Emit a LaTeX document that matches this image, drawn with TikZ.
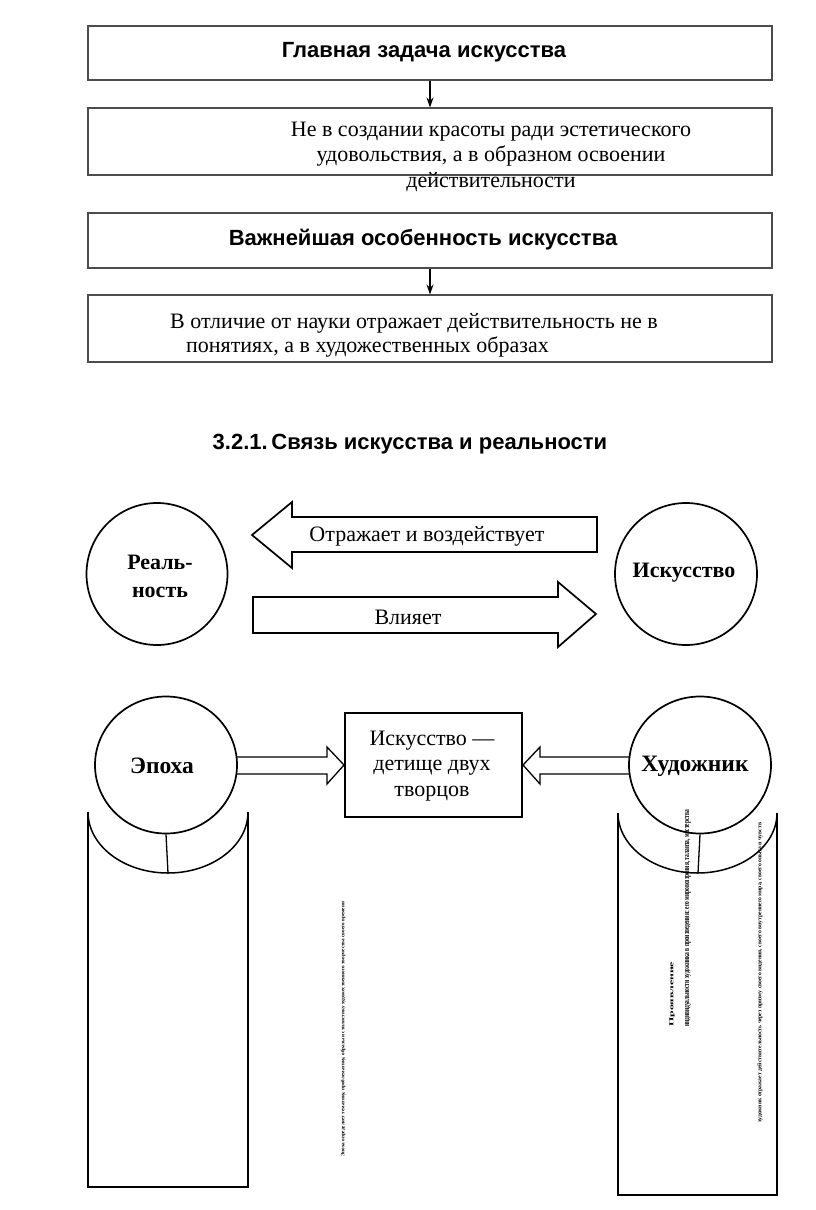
\documentclass[tikz,border=0pt]{standalone}
\usepackage{fontspec}
\setmainfont{Liberation Serif}
\newfontfamily\hsans{Liberation Sans}
\usetikzlibrary{shapes.geometric,arrows.meta}
\tikzset{
  box/.style={draw=black!70, line width=1.1pt, minimum width=684pt, inner sep=0pt},
  hd/.style={font=\hsans\bfseries\fontsize{22}{25}\selectfont, inner sep=0pt},
  bodytxt/.style={font=\fontsize{22}{25.5}\selectfont, align=center, inner sep=0pt},
  circ/.style={draw, ellipse, line width=1.7pt, inner sep=0pt},
  circtxt/.style={font=\bfseries\fontsize{22}{28}\selectfont, align=center, inner sep=0pt},
  blk/.style={draw, line width=1.7pt, line join=miter},
  tinytxt/.style={font=\bfseries\fontsize{4}{4.5}\selectfont, text=black, inner sep=0pt},
  conn/.style={line width=1.2pt, -{Stealth[length=10pt,width=7pt]}},
}
\begin{document}
\begin{tikzpicture}[x=1pt,y=-1pt]
\useasboundingbox (0,0) rectangle (816,1210);
\fill[white] (0,0) rectangle (816,1210);

% top boxes
\node[box, minimum height=54pt] (b1) at (430,53) {};
\node[hd] (t1) at (424,52) {Главная задача искусства};
\node[box, minimum height=67pt] (b2) at (430,141.5) {};
\node[bodytxt] (t2) at (491,156.5) {Не в создании красоты ради эстетического\\удовольствия, а в образном освоении\\действительности};
\draw[conn] (b1.south) -- (b2.north);

\node[box, minimum height=55pt] (b3) at (430,240.5) {};
\node[hd] (t3) at (423,240) {Важнейшая особенность искусства};
\node[box, minimum height=67pt] (b4) at (430,328.5) {};
\node[bodytxt, font=\fontsize{22}{24}\selectfont, align=left, anchor=west] (t4) at (170,335) {В отличие от науки отражает действительность не в\\\hspace*{16pt}понятиях, а в художественных образах};
\draw[conn] (b3.south) -- (b4.north);

% title
\node[hd] (title) at (410,444) {3.2.1.\,Связь искусства и реальности};

% reality / art
\node[circ, minimum width=141pt, minimum height=142pt] (real) at (157,574) {};
\node[circtxt] (realt) at (160,576) {Реаль-\\ность};
\node[circ, minimum width=142pt, minimum height=142pt] (art) at (686,574) {};
\node[circtxt] (artt) at (684,573) {Искусство};

\draw[blk] (252,535) -- (292,502) -- (292,517) -- (597,517) -- (597,552) -- (292,552) -- (292,568) -- cycle;
\node[bodytxt] (a1t) at (427,536) {Отражает и воздействует};
\draw[blk] (253,597) -- (558,597) -- (558,582) -- (596,614) -- (558,647) -- (558,633) -- (253,633) -- cycle;
\node[bodytxt] (a2t) at (408,617) {Влияет};

% epoch / artist
\node[circ, minimum width=142pt, minimum height=137pt] (ep) at (166,765) {};
\node[circtxt, font=\bfseries\fontsize{23.5}{28}\selectfont] (ept) at (162,766) {Эпоха};
\node[circ, minimum width=142pt, minimum height=137pt] (ar) at (700,765) {};
\node[circtxt, font=\bfseries\fontsize{23.5}{28}\selectfont] (art2) at (695,766) {Художник};
\node[draw, line width=1.1pt, minimum width=177pt, minimum height=104pt] (mid) at (433.5,765) {};
\node[bodytxt, font=\fontsize{22}{25.5}\selectfont] (midt) at (432,766) {Искусство —\\детище двух\\творцов};

% hollow arrows
\draw[line width=1.3pt, line join=miter] (237,757) -- (327,757) -- (327,747) -- (344,765) -- (327,784) -- (327,774) -- (237,774);
\draw[line width=1.3pt, line join=miter] (630,757) -- (540,757) -- (540,747) -- (523,765) -- (540,784) -- (540,774) -- (630,774);

% scrolls
\draw[line width=1.5pt] (88,812) -- (88,1187) -- (248,1187) -- (248,812);
\draw[line width=1.5pt] (88,812) arc[start angle=180, end angle=360, x radius=80pt, y radius=61pt];
\coordinate (lb) at (168,873);
\draw[line width=1.3pt] (ep.south) -- (lb);

\draw[line width=1.5pt] (618,813) -- (618,1195) -- (777,1195) -- (777,813);
\draw[line width=1.5pt] (618,813) arc[start angle=180, end angle=360, x radius=79.5pt, y radius=60pt];
\coordinate (rb) at (698,873);
\draw[line width=1.3pt] (ar.south) -- (rb);

% tiny texts
\node[tinytxt, rotate=90, anchor=west] (n1) at (343,1157) {\resizebox{255pt}{3.6pt}{Эпоха определяет тематику, проблематику, образы и стилистику художественного творчества своего времени}};
\node[tinytxt, rotate=90, anchor=west] (n2) at (672,1027) {\resizebox{65pt}{4pt}{Проявление}};
\node[tinytxt, rotate=90, anchor=west] (n3) at (688,1027) {\resizebox{217pt}{4pt}{индивидуальности художника в произведении: его мировоззрения, таланта, мастерства}};
\node[tinytxt, rotate=90, anchor=west] (n4) at (760,1123) {\resizebox{300pt}{4pt}{художник отражает действительность через призму своего видения, своего внутреннего мира, своего опыта и чувств}};
\end{tikzpicture}
\end{document}
